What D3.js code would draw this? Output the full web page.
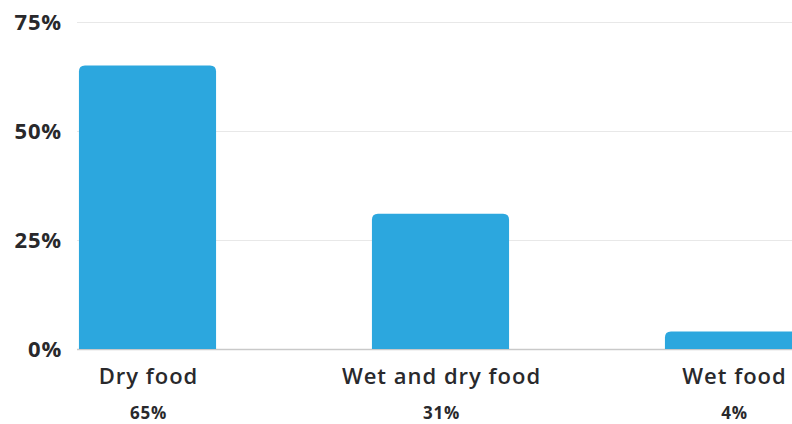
<!DOCTYPE html>
<html>
<head>
<meta charset="utf-8">
<script src="https://cdn.jsdelivr.net/npm/d3@7"></script>
<style>
  html, body { margin: 0; padding: 0; background: #ffffff; }
  svg { display: block; }
  text { font-family: "Open Sans", "Noto Sans", sans-serif; fill: #29292c; }
</style>
</head>
<body>
<svg id="chart" width="792" height="424"></svg>
<script>
// Preferred cat food type (share of respondents)
const categories = ["Dry food", "Wet and dry food", "Wet food"];
const shares = [65, 31, 4];
const valueLabels = ["65%", "31%", "4%"];
const yTicks = [0, 25, 50, 75];

const svg = d3.select("#chart");
const W = 792;

const y = d3.scaleLinear().domain([0, 75]).range([349, 22]);
const x = d3.scaleBand()
  .domain(categories)
  .range([1, 880])
  .paddingInner(0.532)
  .paddingOuter(0.266);

// gridlines
const gridLeft = 77;
svg.append("g").selectAll("line")
  .data(yTicks)
  .join("line")
  .attr("x1", gridLeft)
  .attr("x2", W)
  .attr("y1", d => y(d) + 0.5)
  .attr("y2", d => y(d) + 0.5)
  .attr("stroke", d => d === 0 ? "#c9c9c9" : "#e8e8e8")
  .attr("stroke-width", d => d === 0 ? 1.5 : 1);

// y tick labels
const yAxis = d3.axisLeft(y).tickValues(yTicks).tickSize(0).tickPadding(0)
  .tickFormat(d => d + "%");
const ya = svg.append("g").attr("transform", "translate(62,0)").call(yAxis);
ya.select(".domain").remove();
ya.selectAll("text")
  .attr("font-family", null)
  .attr("fill", null)
  .style("font-size", "22px")
  .style("font-weight", "700")
  .style("letter-spacing", "0.8px")
  .attr("dy", "0.36em");

// bars with rounded top corners
const r = 6;
function barPath(x0, w, yTop, yBase) {
  return `M${x0},${yBase}V${yTop + r}Q${x0},${yTop} ${x0 + r},${yTop}` +
         `H${x0 + w - r}Q${x0 + w},${yTop} ${x0 + w},${yTop + r}V${yBase}Z`;
}
svg.append("g").selectAll("path")
  .data(categories)
  .join("path")
  .attr("d", (c, i) => barPath(x(c), x.bandwidth(), y(shares[i]), y(0)))
  .attr("fill", "#2ca7de");

// category labels
svg.append("g").selectAll("text")
  .data(categories)
  .join("text")
  .attr("x", c => x(c) + x.bandwidth() / 2 + 1)
  .attr("y", 384)
  .attr("text-anchor", "middle")
  .style("font-size", "22px")
  .style("font-weight", "600")
  .style("letter-spacing", "1px")
  .text(c => c);

// value labels
svg.append("g").selectAll("text")
  .data(categories)
  .join("text")
  .attr("x", c => x(c) + x.bandwidth() / 2 + 1)
  .attr("y", 419)
  .attr("text-anchor", "middle")
  .style("font-size", "17px")
  .style("font-weight", "700")
  .style("letter-spacing", "0.8px")
  .text((c, i) => valueLabels[i]);
</script>
</body>
</html>
